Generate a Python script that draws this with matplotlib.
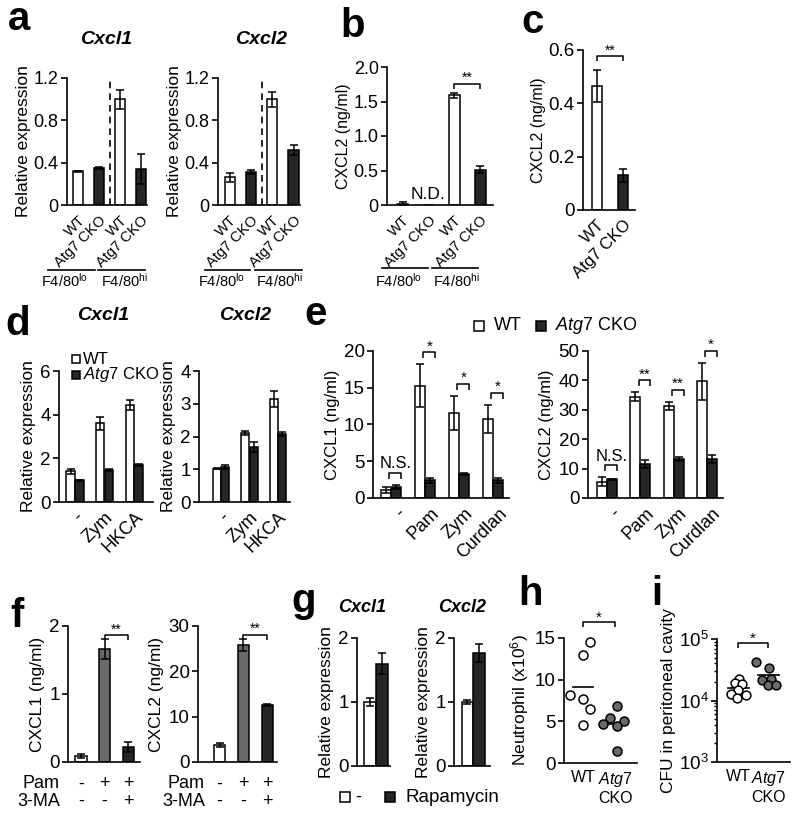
import numpy as np
import matplotlib
matplotlib.use('Agg')
import matplotlib.pyplot as plt
from matplotlib.lines import Line2D
from matplotlib.transforms import blended_transform_factory
import matplotlib.ticker as mticker

plt.rcParams['font.family'] = ['Liberation Sans', 'DejaVu Sans']
plt.rcParams['mathtext.fontset'] = 'custom'
plt.rcParams['mathtext.rm'] = 'Liberation Sans'
plt.rcParams['mathtext.it'] = 'Liberation Sans:italic'
plt.rcParams['mathtext.bf'] = 'Liberation Sans:bold'
plt.rcParams['mathtext.default'] = 'regular'

# ---------------- data ----------------
a_labels = ['WT', 'Atg7 CKO', 'WT', 'Atg7 CKO']
a_cxcl1 = [0.32, 0.35, 1.00, 0.34]
a_cxcl1_err = [0.005, 0.012, 0.09, 0.14]
a_cxcl2 = [0.26, 0.31, 1.00, 0.52]
a_cxcl2_err = [0.04, 0.02, 0.07, 0.05]

b_labels = ['WT', 'Atg7 CKO', 'WT', 'Atg7 CKO']
b_cxcl2 = [0.01, 0.0, 1.59, 0.51]
b_cxcl2_err = [0.03, 0.0, 0.04, 0.05]

c_labels = ['WT', 'Atg7 CKO']
c_cxcl2 = [0.465, 0.13]
c_cxcl2_err = [0.06, 0.025]

d_stim = ['-', 'Zym', 'HKCA']
d_cxcl1_wt = [1.4, 3.6, 4.45]
d_cxcl1_wt_err = [0.12, 0.3, 0.22]
d_cxcl1_ko = [1.0, 1.45, 1.7]
d_cxcl1_ko_err = [0.03, 0.05, 0.04]
d_cxcl2_wt = [1.02, 2.1, 3.15]
d_cxcl2_wt_err = [0.02, 0.06, 0.25]
d_cxcl2_ko = [1.07, 1.68, 2.07]
d_cxcl2_ko_err = [0.06, 0.14, 0.06]

e_stim = ['-', 'Pam', 'Zym', 'Curdlan']
e_cxcl1_wt = [1.1, 15.3, 11.6, 10.8]
e_cxcl1_wt_err = [0.4, 2.9, 2.3, 1.9]
e_cxcl1_ko = [1.5, 2.4, 3.3, 2.4]
e_cxcl1_ko_err = [0.3, 0.3, 0.12, 0.3]
e_cxcl1_sig = ['N.S.', '*', '*', '*']
e_cxcl2_wt = [5.5, 34.5, 31.3, 39.7]
e_cxcl2_wt_err = [1.5, 1.5, 1.5, 6.3]
e_cxcl2_ko = [6.3, 11.5, 13.3, 13.3]
e_cxcl2_ko_err = [0.3, 1.3, 0.8, 1.4]
e_cxcl2_sig = ['N.S.', '**', '**', '*']

f_pam = ['-', '+', '+']
f_3ma = ['-', '-', '+']
f_cxcl1 = [0.09, 1.66, 0.22]
f_cxcl1_err = [0.03, 0.15, 0.08]
f_cxcl2 = [3.7, 25.8, 12.5]
f_cxcl2_err = [0.5, 1.4, 0.2]

g_labels = ['-', 'Rapamycin']
g_cxcl1 = [1.0, 1.6]
g_cxcl1_err = [0.06, 0.16]
g_cxcl2 = [1.0, 1.76]
g_cxcl2_err = [0.03, 0.14]

h_groups = ['WT', 'Atg7 CKO']
h_wt = [14.5, 13.0, 8.2, 7.65, 6.45, 4.6]
h_ko = [6.85, 5.35, 4.65, 5.0, 4.45, 1.5]

i_wt = [22300, 19000, 18300, 14800, 12700, 12200, 10800]
i_ko = [42200, 34000, 21700, 22000, 17600, 18200]

# ------------- layout / style -------------
h_wt_dx = [7, 0, -13, 0, 7, 0]        # jitter in px
h_ko_dx = [2, -5, -12, 9, 2, 2]
i_wt_dx = [1, -3, 4, 0, -7, 8, -1]
i_ko_dx = [-12, 1, -6, 3, 0, 8]

W, H = 800, 819
fig = plt.figure(figsize=(8, 8.19), dpi=100)
WHITE, DARK, GRAY = 'white', '#262626', '#6a6a6a'
LW = 1.2


def fx(x):
    return x / W


def fy(y):
    return 1 - y / H


def axpx(l, t, r, b):
    return fig.add_axes([l / W, 1 - b / H, (r - l) / W, (b - t) / H])


def style(ax, fs=13):
    for s in ('top', 'right'):
        ax.spines[s].set_visible(False)
    for s in ('left', 'bottom'):
        ax.spines[s].set_linewidth(LW)
    ax.tick_params(axis='y', direction='out', length=4, width=LW, labelsize=fs, pad=2)
    ax.tick_params(axis='x', length=0, labelsize=fs, pad=3)


def bars(ax, x, vals, errs, colors, width):
    x = np.asarray(x, float)
    vals = np.asarray(vals, float)
    errs = np.asarray(errs, float)
    ax.bar(x, vals, width=width, color=colors, edgecolor='black', linewidth=1.1, zorder=2)
    m = errs > 0
    ax.errorbar(x[m], vals[m], yerr=errs[m], fmt='none', ecolor='black',
                elinewidth=1.1, capsize=3, capthick=1.1, zorder=3)


def ydata_shift(ax, x, y, dpx):
    d = ax.transData.transform((x, y))
    return ax.transData.inverted().transform((d[0], d[1] + dpx))[1]


def bracket(ax, x0, x1, y, text, drop=5, fs=11, toff=0):
    ylow = ydata_shift(ax, x0, y, -drop)
    ax.plot([x0, x0, x1, x1], [ylow, y, y, ylow], color='black', lw=1.1,
            clip_on=False, solid_capstyle='butt')
    ax.annotate(text, ((x0 + x1) / 2, y), xytext=(0, toff), textcoords='offset points',
                ha='center', va='bottom', fontsize=fs, annotation_clip=False)


def letter(x, y, s):
    fig.text(fx(x), fy(y), s, fontsize=29, fontweight='bold', ha='left', va='baseline')


def title(x, y, s, fs=14):
    fig.text(fx(x), fy(y), s, fontsize=fs, fontweight='bold', fontstyle='italic',
             ha='center', va='center')


def hline(x0, x1, y):
    fig.add_artist(Line2D([fx(x0), fx(x1)], [fy(y), fy(y)], color='black', lw=LW))


def square(x, y, color, ms=6.5):
    fig.add_artist(Line2D([fx(x)], [fy(y)], marker='s', markersize=ms, mfc=color,
                          mec='black', mew=1.1, linestyle='none'))


# ---------------- panel a ----------------
letter(8, 30, 'a')
for (l, r, ttl, tx, vals, errs, lines, texts) in [
        (67, 147, 'Cxcl1', 106, a_cxcl1, a_cxcl1_err,
         [(48, 95), (98, 145)], [65, 124]),
        (218, 300, 'Cxcl2', 261, a_cxcl2, a_cxcl2_err,
         [(205, 250), (255, 302)], [222, 279])]:
    ax = axpx(l, 78, r, 205)
    style(ax)
    x = np.arange(len(vals))
    bars(ax, x, vals, errs, [WHITE, DARK, WHITE, DARK], 0.48)
    ax.axvline(1.5, color='black', lw=LW, ls=(0, (4, 3)), zorder=1)
    ax.set_xlim(-0.55, 3.3)
    ax.set_ylim(0, 1.2)
    ax.set_yticks([0, 0.4, 0.8, 1.2], ['0', '0.4', '0.8', '1.2'])
    ax.set_xticks(x, a_labels, rotation=45, ha='right', rotation_mode='anchor')
    ax.tick_params(axis='x', labelsize=10.5, pad=6)
    ax.set_ylabel('Relative expression', fontsize=12.5, labelpad=2)
    title(tx, 39, ttl)
    for (x0, x1) in lines:
        hline(x0, x1, 270)
    fig.text(fx(texts[0]), fy(281), r'F4/80$^{lo}$', ha='center', va='center', fontsize=10.5)
    fig.text(fx(texts[1]), fy(281), r'F4/80$^{hi}$', ha='center', va='center', fontsize=10.5)

# ---------------- panel b ----------------
letter(340, 37, 'b')
ax = axpx(387, 67, 493, 205)
style(ax)
x = np.arange(len(b_cxcl2))
bars(ax, x, b_cxcl2, b_cxcl2_err, [WHITE, DARK, WHITE, DARK], 0.43)
ax.set_xlim(-0.6, 3.5)
ax.set_ylim(0, 2.0)
ax.set_yticks([0, 0.5, 1.0, 1.5, 2.0], ['0', '0.5', '1.0', '1.5', '2.0'])
ax.set_xticks(x, b_labels, rotation=45, ha='right', rotation_mode='anchor')
ax.tick_params(axis='x', labelsize=10.5, pad=6)
ax.set_ylabel('CXCL2 (ng/ml)', fontsize=11.5, labelpad=2)
ax.text(1, 0.05, 'N.D.', ha='center', va='bottom', fontsize=12.5)
bracket(ax, 2, 3, ydata_shift(ax, 2, max(np.add(b_cxcl2, b_cxcl2_err)), 9), '**', fs=10, toff=-1)
hline(382, 428, 268)
hline(432, 478, 268)
fig.text(fx(399), fy(281), r'F4/80$^{lo}$', ha='center', va='center', fontsize=10.5)
fig.text(fx(456), fy(281), r'F4/80$^{hi}$', ha='center', va='center', fontsize=10.5)

# ---------------- panel c ----------------
letter(521, 33, 'c')
ax = axpx(583, 50, 635, 210)
style(ax, fs=13.5)
x = np.arange(len(c_cxcl2))
bars(ax, x, c_cxcl2, c_cxcl2_err, [WHITE, DARK], 0.42)
ax.set_xlim(-0.54, 1.46)
ax.set_ylim(0, 0.6)
ax.set_yticks([0, 0.2, 0.4, 0.6], ['0', '0.2', '0.4', '0.6'])
ax.set_xticks(x, c_labels, rotation=45, ha='right', rotation_mode='anchor')
ax.tick_params(axis='x', labelsize=12, pad=5)
ax.set_ylabel('CXCL2 (ng/ml)', fontsize=11.5, labelpad=2)
bracket(ax, 0, 1, ydata_shift(ax, 0, max(np.add(c_cxcl2, c_cxcl2_err)), 14), '**', fs=10, toff=-1)

# ---------------- panel d ----------------
letter(5, 335, 'd')
for (l, r, ttl, tx, wt, wte, ko, koe, ymax, xl) in [
        (59, 153, 'Cxcl1', 103, d_cxcl1_wt, d_cxcl1_wt_err, d_cxcl1_ko, d_cxcl1_ko_err, 6, (-0.54, 2.64)),
        (199, 290, 'Cxcl2', 245, d_cxcl2_wt, d_cxcl2_wt_err, d_cxcl2_ko, d_cxcl2_ko_err, 4, (-0.77, 2.42))]:
    ax = axpx(l, 371, r, 502)
    style(ax, fs=13.5)
    x = np.arange(len(wt))
    bars(ax, x - 0.15, wt, wte, WHITE, 0.28)
    bars(ax, x + 0.15, ko, koe, DARK, 0.28)
    ax.set_xlim(*xl)
    ax.set_ylim(0, ymax)
    ax.set_yticks(np.arange(0, ymax + 1, 2 if ymax == 6 else 1))
    ax.set_xticks(x, d_stim, rotation=45, ha='right', rotation_mode='anchor')
    ax.tick_params(axis='x', labelsize=13, pad=5)
    ax.set_ylabel('Relative expression', fontsize=12.5, labelpad=3)
    title(tx, 316, ttl)
square(76, 359, WHITE, ms=6)
fig.text(fx(83), fy(359), 'WT', ha='left', va='center', fontsize=12)
square(76, 375, DARK, ms=6)
fig.text(fx(83), fy(375), r'$\mathit{Atg7}$ CKO', ha='left', va='center', fontsize=12)

# ---------------- panel e ----------------
letter(304, 325, 'e')
for (l, r, lab, wt, wte, ko, koe, sig, ymax, step, xl) in [
        (373, 509, 'CXCL1 (ng/ml)', e_cxcl1_wt, e_cxcl1_wt_err, e_cxcl1_ko, e_cxcl1_ko_err,
         e_cxcl1_sig, 20, 5, (-0.53, 3.47)),
        (588, 723, 'CXCL2 (ng/ml)', e_cxcl2_wt, e_cxcl2_wt_err, e_cxcl2_ko, e_cxcl2_ko_err,
         e_cxcl2_sig, 50, 10, (-0.57, 3.48))]:
    ax = axpx(l, 351, r, 498)
    style(ax, fs=13.5)
    x = np.arange(len(wt))
    bars(ax, x - 0.15, wt, wte, WHITE, 0.30)
    bars(ax, x + 0.15, ko, koe, DARK, 0.30)
    ax.set_xlim(*xl)
    ax.set_ylim(0, ymax)
    ax.set_yticks(np.arange(0, ymax + 1, step))
    ax.set_xticks(x + 0.15, e_stim, rotation=45, ha='right', rotation_mode='anchor')
    ax.tick_params(axis='x', labelsize=13, pad=5)
    ax.set_ylabel(lab, fontsize=12, labelpad=3)
    tops = np.maximum(np.add(wt, wte), np.add(ko, koe))
    for xi, t, s in zip(x, tops, sig):
        yb = ydata_shift(ax, xi, t, 12)
        if s == 'N.S.':
            bracket(ax, xi - 0.05, xi + 0.3, yb, s, drop=6, fs=12, toff=1)
        else:
            bracket(ax, xi - 0.05, xi + 0.3, yb, s, drop=6, fs=11, toff=-1)
square(479, 326, WHITE)
fig.text(fx(494), fy(326), 'WT', ha='left', va='center', fontsize=13)
square(541, 326, DARK)
fig.text(fx(555), fy(326), r'$\mathit{Atg7}$ CKO', ha='left', va='center', fontsize=13)

# ---------------- panel f ----------------
letter(10, 627, 'f')
for (l, r, lab, vals, errs, ticks, tl, xl, rowx) in [
        (68, 140, 'CXCL1 (ng/ml)', f_cxcl1, f_cxcl1_err, [0, 1, 2], ['0', '1', '2'], (-0.55, 2.5), 60),
        (198, 277, 'CXCL2 (ng/ml)', f_cxcl2, f_cxcl2_err, [0, 10, 20, 30], ['0', '10', '20', '30'], (-0.9, 2.4), 205)]:
    ax = axpx(l, 626, r, 762)
    style(ax, fs=13.5)
    x = np.arange(len(vals))
    bars(ax, x, vals, errs, [WHITE, GRAY, DARK], 0.47)
    ax.set_xlim(*xl)
    ax.set_ylim(0, ticks[-1])
    ax.set_yticks(ticks, tl)
    ax.set_xticks([])
    ax.set_ylabel(lab, fontsize=12.5, labelpad=3)
    bracket(ax, 1, 2, ydata_shift(ax, 1, max(np.add(vals, errs)), 4), '**', drop=5, fs=10, toff=-1)
    tr = blended_transform_factory(ax.transData, fig.transFigure)
    for xi, p, m in zip(x, f_pam, f_3ma):
        ax.text(xi, fy(784), p, transform=tr, ha='center', va='center', fontsize=13)
        ax.text(xi, fy(801), m, transform=tr, ha='center', va='center', fontsize=13)
    fig.text(fx(rowx), fy(784), 'Pam', ha='right', va='center', fontsize=13)
    fig.text(fx(rowx), fy(801), '3-MA', ha='right', va='center', fontsize=13)

# ---------------- panel g ----------------
letter(291, 612, 'g')
for (l, r, ttl, tx, vals, errs, xl) in [
        (357, 390, 'Cxcl1', 362, g_cxcl1, g_cxcl1_err, (-1.08, 1.67)),
        (454, 490, 'Cxcl2', 462, g_cxcl2, g_cxcl2_err, (-1.17, 1.96))]:
    ax = axpx(l, 638, r, 766)
    style(ax, fs=13.5)
    x = np.arange(len(vals))
    bars(ax, x, vals, errs, [WHITE, DARK], 0.98)
    ax.set_xlim(*xl)
    ax.set_ylim(0, 2)
    ax.set_yticks([0, 1, 2])
    ax.set_xticks([])
    ax.set_ylabel('Relative expression', fontsize=12.5, labelpad=3)
    title(tx, 607, ttl, fs=13)
square(345, 797, WHITE)
fig.text(fx(358), fy(797), g_labels[0], ha='center', va='center', fontsize=13)
square(390, 797, DARK)
fig.text(fx(406), fy(797), g_labels[1], ha='left', va='center', fontsize=13.5)

# ---------------- panel h ----------------
letter(518, 605, 'h')
ax = axpx(564, 638, 637, 763)
style(ax, fs=13.5)
sp = 32.0
for xi, vals, dx, fc in [(0, h_wt, h_wt_dx, WHITE), (1, h_ko, h_ko_dx, GRAY)]:
    ax.scatter(xi + np.array(dx) / sp, vals, s=42, facecolor=fc, edgecolor='black',
               linewidth=1.1, zorder=3, clip_on=False)
    mval = np.mean(vals)
    ax.plot([xi - 0.32, xi + 0.32], [mval, mval], color='black', lw=1.2, zorder=2)
ax.set_xlim(-0.6, 1.69)
ax.set_ylim(0, 15)
ax.set_yticks([0, 5, 10, 15])
ax.set_xticks([0, 1], ['WT', '$\\mathit{Atg7}$\nCKO'])
ax.tick_params(axis='x', labelsize=11.5, pad=5)
ax.set_ylabel('Neutrophil (x10$^{6}$)', fontsize=12.5, labelpad=3)
bracket(ax, 0, 1, 16.9, '*', drop=5, fs=11, toff=-2)

# ---------------- panel i ----------------
letter(651, 605, 'i')
ax = axpx(717, 639, 790, 762)
style(ax, fs=13.5)
ax.set_yscale('log')
sp = 30.0
for xi, vals, dx, fc in [(0, i_wt, i_wt_dx, WHITE), (1, i_ko, i_ko_dx, GRAY)]:
    ax.scatter(xi + np.array(dx) / sp, vals, s=40, facecolor=fc, edgecolor='black',
               linewidth=1.1, zorder=3, clip_on=False)
    mval = np.mean(vals)
    ax.plot([xi - 0.35, xi + 0.35], [mval, mval], color='black', lw=1.2, zorder=2)
ax.set_xlim(-0.7, 1.73)
ax.set_ylim(1e3, 1e5)
ax.set_yticks([1e3, 1e4, 1e5], ['10$^{3}$', '10$^{4}$', '10$^{5}$'])
ax.yaxis.set_minor_locator(mticker.LogLocator(base=10, subs=np.arange(2, 10)))
ax.yaxis.set_minor_formatter(mticker.NullFormatter())
ax.tick_params(axis='y', which='minor', length=2.5, width=1.0)
ax.set_xticks([0, 1], ['WT', '$\\mathit{Atg7}$\nCKO'])
ax.tick_params(axis='x', labelsize=11.5, pad=5)
ax.set_ylabel('CFU in peritoneal cavity', fontsize=12.5, labelpad=2)
bracket(ax, 0, 1, ydata_shift(ax, 0, 1e5, -4), '*', drop=5, fs=11, toff=-2)

fig.savefig('out.png', dpi=100)
